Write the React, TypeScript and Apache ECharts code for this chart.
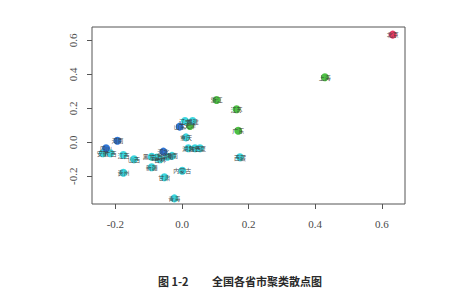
import React, { useEffect, useRef } from "react";
import * as echarts from "echarts";

// Province names, first two principal coordinates and cluster membership
const provinces = [
  "北京", "上海", "浙江", "江苏", "广东", "天津", "西藏", "辽宁",
  "福建", "山东", "重庆", "湖北", "陕西", "宁夏", "内蒙古", "青海",
  "甘肃", "河北", "湖南", "吉林", "黑龙江", "新疆", "河南", "四川",
  "安徽", "广西", "江西", "山西", "贵州", "云南", "海南",
];
const xValues = [
  0.633, 0.429, 0.104, 0.164, 0.169, 0.024, 0.174, 0.009,
  0.032, -0.007, 0.012, 0.019, 0.039, 0.054, 0.001, -0.023,
  -0.053, -0.056, -0.044, -0.066, -0.091, -0.091, -0.194, -0.228,
  -0.238, -0.215, -0.176, -0.144, -0.176, -0.075, -0.03,
];
const yValues = [
  0.633, 0.382, 0.249, 0.194, 0.068, 0.096, -0.088, 0.125,
  0.125, 0.092, 0.029, -0.035, -0.035, -0.035, -0.167, -0.33,
  -0.206, -0.055, -0.085, -0.1, -0.085, -0.147, 0.009, -0.035,
  -0.065, -0.065, -0.075, -0.1, -0.179, -0.09, -0.08,
];
const clusters = [
  0, 1, 1, 1, 1, 1, 2, 2,
  2, 3, 2, 2, 2, 2, 2, 2,
  2, 3, 2, 2, 2, 2, 3, 3,
  2, 2, 2, 2, 2, 2, 2,
];
const clusterColors = ["#e2325c", "#45bd3a", "#2fd3dc", "#246fd2"];
const tickValues = [-0.2, 0, 0.2, 0.4, 0.6];

const xMin = -0.2703;
const xMax = 0.6697;
const yMin = -0.363;
const yMax = 0.678;

const axisFont = {
  fontFamily: "Liberation Serif",
  fontSize: 11,
  color: "#4a4a4a",
};

export default function App() {
  const ref = useRef<HTMLDivElement>(null);

  useEffect(() => {
    if (!ref.current) return;
    const chart = echarts.init(ref.current, undefined, { renderer: "svg" });

    const series = clusterColors.map((color, c) => ({
      type: "scatter",
      symbol: "circle",
      symbolSize: 8,
      itemStyle: { color, opacity: 0.95 },
      label: {
        show: true,
        position: "inside",
        formatter: "{b}",
        fontSize: 6,
        color: "#3a3a3a",
        fontFamily: "Noto Sans CJK SC",
      },
      data: provinces
        .map((name, i) => ({ name, value: [xValues[i], yValues[i]], c: clusters[i] }))
        .filter((d) => d.c === c)
        .map((d) => ({ name: d.name, value: d.value })),
    }));

    chart.setOption({
      animation: false,
      grid: {
        left: 92,
        right: 53,
        top: 27,
        bottom: 85,
        show: true,
        borderColor: "#555",
        borderWidth: 1,
        backgroundColor: "transparent",
      },
      xAxis: {
        type: "value",
        min: xMin,
        max: xMax,
        splitLine: { show: false },
        axisLine: { show: false, onZero: false },
        axisTick: {
          show: true,
          length: 5,
          lineStyle: { color: "#555" },
          customValues: tickValues,
        },
        axisLabel: {
          ...axisFont,
          margin: 14,
          customValues: tickValues,
          formatter: (v: number) => v.toFixed(1),
        },
      },
      yAxis: {
        type: "value",
        min: yMin,
        max: yMax,
        splitLine: { show: false },
        axisLine: { show: false, onZero: false },
        axisTick: {
          show: true,
          length: 5,
          lineStyle: { color: "#555" },
          customValues: tickValues,
        },
        axisLabel: {
          ...axisFont,
          rotate: 90,
          margin: 14,
          customValues: tickValues,
          formatter: (v: number) => v.toFixed(1),
        },
      },
      graphic: [
        {
          type: "text",
          left: 158,
          top: 275,
          style: {
            text: "图 1-2",
            fontSize: 11,
            fontWeight: "bold",
            fill: "#2a2a2a",
            fontFamily: "Noto Sans CJK SC",
          },
        },
        {
          type: "text",
          left: 212,
          top: 275,
          style: {
            text: "全国各省市聚类散点图",
            fontSize: 11,
            fontWeight: "bold",
            fill: "#2a2a2a",
            fontFamily: "Noto Sans CJK SC",
          },
        },
      ],
      series,
    });

    return () => chart.dispose();
  }, []);

  return (
    <div
      ref={ref}
      style={{ position: "absolute", left: 0, top: 0, width: 458, height: 289, background: "#fff" }}
    />
  );
}
